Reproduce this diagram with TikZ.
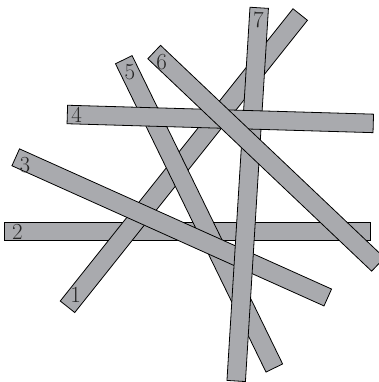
\documentclass[tikz,border=0pt]{standalone}
\begin{document}
\begin{tikzpicture}[x=1pt,y=-1pt,
  stick/.style={draw=black, line width=0.8pt, fill=stickgray, inner sep=0pt, outer sep=0pt, minimum height=18.5pt, anchor=center},
  lbl/.style={font=\fontsize{23}{23}\selectfont, inner sep=0pt, text=black!85}]
\definecolor{stickgray}{RGB}{169,170,174}
\useasboundingbox (0,0) rectangle (379,382);
\begin{scope}
\clip (0,0) rectangle (379,382);
% bottom to top: 2,1,5,3,7,4,6
\node[stick, minimum width=366pt, rotate=0] (s2) at (187.7,231.2) {};
\node[lbl] (l2) at (17.3,232.3) {2};
\node[stick, minimum width=373.6pt, rotate=51.47] (s1) at (183.85,160.65) {};
\node[lbl] (l1) at (75.7,295) {1};
\node[stick, minimum width=343.1pt, rotate=-63.98] (s5) at (199.05,213.85) {};
\node[lbl] (l5) at (130,71.7) {5};
\node[stick, minimum width=342.1pt, rotate=-24.19] (s3) at (171.75,227.4) {};
\node[lbl] (l3) at (25,165) {3};
\node[stick, minimum width=373.9pt, rotate=86.47] (s7) at (247.7,194.4) {};
\node[lbl] (l7) at (258.3,20) {7};
\node[stick, minimum width=306.1pt, rotate=-1.67] (s4) at (220.3,118.95) {};
\node[lbl] (l4) at (76.7,115) {4};
\node[stick, minimum width=308.6pt, rotate=-43.5] (s6) at (266.1,158.25) {};
\node[lbl] (l6) at (161.7,61.7) {6};
\end{scope}
\end{tikzpicture}
\end{document}
